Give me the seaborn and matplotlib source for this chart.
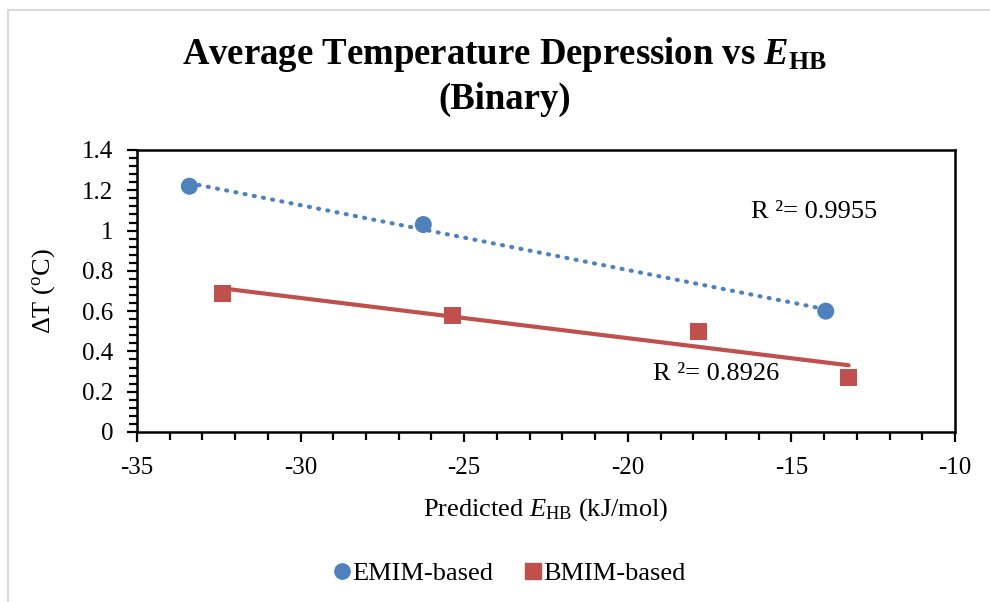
import numpy as np
import pandas as pd
import matplotlib
matplotlib.use("Agg")
import matplotlib.pyplot as plt
from matplotlib.lines import Line2D
from matplotlib.patches import Rectangle
from matplotlib.ticker import MultipleLocator
import seaborn as sns

# Hydrogen-bond energy (kJ/mol) and mean temperature depression (°C)
emim_ehb = [-33.4, -26.25, -13.95]
emim_dt = [1.22, 1.03, 0.60]
bmim_ehb = [-32.4, -25.35, -17.85, -13.25]
bmim_dt = [0.69, 0.58, 0.50, 0.27]

series_names = ["EMIM-based", "BMIM-based"]
r2_labels = ["R ²= 0.9955", "R ²= 0.8926"]
x_ticks = [-35, -30, -25, -20, -15, -10]
y_ticks = [0, 0.2, 0.4, 0.6, 0.8, 1.0, 1.2, 1.4]
y_tick_labels = ["0", "0.2", "0.4", "0.6", "0.8", "1", "1.2", "1.4"]

blue = "#4F81BD"
red = "#C0504D"

sns.set_theme(style="white")
plt.rcParams["font.family"] = ["Liberation Serif", "DejaVu Serif"]
plt.rcParams["text.color"] = "black"
plt.rcParams["axes.labelcolor"] = "black"
plt.rcParams["mathtext.fontset"] = "custom"
plt.rcParams["mathtext.rm"] = "Liberation Serif"
plt.rcParams["mathtext.it"] = "Liberation Serif:italic"
plt.rcParams["mathtext.bf"] = "Liberation Serif:bold"
plt.rcParams["mathtext.bfit"] = "Liberation Serif:bold:italic"

emim = pd.DataFrame({"ehb": emim_ehb, "dt": emim_dt})
bmim = pd.DataFrame({"ehb": bmim_ehb, "dt": bmim_dt})

fig = plt.figure(figsize=(9.9, 6.02), dpi=100)
fig.patch.set_facecolor("white")

# light chart-area frame
fig.patches.append(Rectangle((8 / 990, -0.5), 2.0, 1 - 9.5 / 602 + 0.5,
                             transform=fig.transFigure, fill=False,
                             edgecolor="#D9D9D9", linewidth=1.5, zorder=0))

ax = fig.add_axes([137 / 990, 1 - 432 / 602, (955 - 137) / 990, (432 - 150) / 602])

# linear trendlines over each data range
sns.regplot(data=emim, x="ehb", y="dt", ax=ax, scatter=False, ci=None,
            line_kws=dict(color=blue, linewidth=3.0, linestyle=(0, (0.25, 2.0)),
                          dash_capstyle="round", zorder=2))
sns.regplot(data=bmim, x="ehb", y="dt", ax=ax, scatter=False, ci=None,
            line_kws=dict(color=red, linewidth=3.0, solid_capstyle="round", zorder=2))

sns.scatterplot(data=emim, x="ehb", y="dt", ax=ax, marker="o", s=150,
                color=blue, edgecolor="none", zorder=3)
sns.scatterplot(data=bmim, x="ehb", y="dt", ax=ax, marker="s", s=150,
                color=red, edgecolor="none", zorder=3)

ax.set_xlim(-35, -10)
ax.set_ylim(0, 1.4)
ax.set_xticks(x_ticks)
ax.set_xticklabels([str(v) for v in x_ticks])
ax.set_yticks(y_ticks)
ax.set_yticklabels(y_tick_labels)
ax.xaxis.set_minor_locator(MultipleLocator(1))
ax.yaxis.set_minor_locator(MultipleLocator(0.04))

for side in ax.spines.values():
    side.set_color("black")
    side.set_linewidth(1.8)
ax.tick_params(axis="both", which="both", direction="out", color="black",
               width=1.6, labelsize=18, labelcolor="black")
ax.tick_params(axis="both", which="major", length=7)
ax.tick_params(axis="both", which="minor", length=6)
ax.tick_params(axis="x", which="major", pad=11)
ax.tick_params(axis="y", which="major", pad=10)
ax.tick_params(axis="x", which="both", bottom=True)
ax.tick_params(axis="y", which="both", left=True)

ax.set_xlabel("Predicted $\\mathit{E}_{\\mathrm{HB}}$ (kJ/mol)", fontsize=19,
              color="black", labelpad=12)
ax.set_ylabel("ΔT ($^{\\mathrm{o}}$C)", fontsize=19, color="black", labelpad=18)

ax.text(-16.23, 1.092, r2_labels[0], fontsize=19, color="black", va="center")
ax.text(-19.23, 0.288, r2_labels[1], fontsize=19, color="black", va="center")

fig.text(505 / 990, 1 - 55 / 602,
         "Average Temperature Depression vs $\\mathbfit{E}_{\\mathbf{HB}}$",
         ha="center", va="center", fontsize=26.5, fontweight="bold")
fig.text(505 / 990, 1 - 99 / 602, "(Binary)", ha="center", va="center",
         fontsize=26.5, fontweight="bold")

handles = [Line2D([], [], marker="o", color=blue, linestyle="none", markersize=11),
           Line2D([], [], marker="s", color=red, linestyle="none", markersize=11)]
fig.legend(handles, series_names, loc="center", bbox_to_anchor=(507 / 990, 1 - 573 / 602),
           ncol=2, frameon=False, fontsize=19, handletextpad=-0.1,
           columnspacing=1.0, handlelength=1.0)

fig.savefig("out.png", dpi=100, facecolor="white")
